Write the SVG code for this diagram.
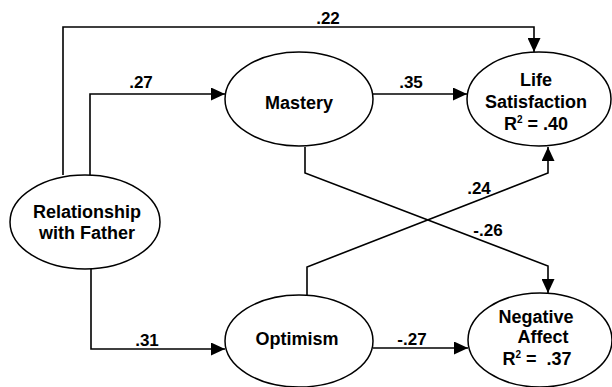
<svg xmlns="http://www.w3.org/2000/svg" width="612" height="387" viewBox="0 0 612 387">
<style>
.node ellipse{fill:#fff;stroke:#000;stroke-width:1.5}
.lbl{font-family:"Liberation Sans",Arial,sans-serif;font-weight:bold;font-size:18px;text-anchor:middle;fill:#000}
.num{font-family:"Liberation Sans",Arial,sans-serif;font-weight:bold;font-size:17px;text-anchor:middle;fill:#000}
.sup{font-size:10px}
.conn path{fill:none;stroke:#000;stroke-width:1.6}
</style>
<defs>
<marker id="ah" viewBox="0 0 14 13" refX="14" refY="6.5" markerWidth="14" markerHeight="13" markerUnits="userSpaceOnUse" orient="auto">
<path d="M0,0 L14,6.5 L0,13 z" fill="#000"/>
</marker>
</defs>
<rect width="612" height="387" fill="#fff"/>
<g id="connectors" class="conn">
<path d="M63,175 V27 H534 V52" marker-end="url(#ah)"/>
<path d="M90,175 V94 H225" marker-end="url(#ah)"/>
<path d="M91,268 V349 H225" marker-end="url(#ah)"/>
<path d="M373,94 H467" marker-end="url(#ah)"/>
<path d="M373,348 H468" marker-end="url(#ah)"/>
<path d="M305,147 V173 L548,266 V293" marker-end="url(#ah)"/>
<path d="M307,295 V267 L548,173 V147" marker-end="url(#ah)"/>
</g>
<g id="labels">
<text class="num" x="328" y="24">.22</text>
<text class="num" x="141" y="88">.27</text>
<text class="num" x="411" y="88">.35</text>
<text class="num" x="147" y="346">.31</text>
<text class="num" x="412" y="345">-.27</text>
<text class="num" x="479" y="194">.24</text>
<text class="num" x="488" y="236">-.26</text>
</g>
<g id="father" class="node">
<ellipse cx="85" cy="222" rx="75" ry="47"/>
<text class="lbl" x="87" y="218">Relationship</text>
<text class="lbl" x="87" y="239">with Father</text>
</g>
<g id="mastery" class="node">
<ellipse cx="299" cy="99" rx="74" ry="47"/>
<text class="lbl" x="299" y="109">Mastery</text>
</g>
<g id="optimism" class="node">
<ellipse cx="299" cy="341" rx="74" ry="46"/>
<text class="lbl" x="297" y="345">Optimism</text>
</g>
<g id="lifesat" class="node">
<ellipse cx="539" cy="99" rx="72" ry="47"/>
<text class="lbl" x="536" y="86">Life</text>
<text class="lbl" x="536" y="108">Satisfaction</text>
<text class="lbl" x="536" y="130">R<tspan class="sup" dy="-7">2</tspan><tspan dy="7"> = .40</tspan></text>
</g>
<g id="negaff" class="node">
<ellipse cx="540" cy="340" rx="72" ry="47"/>
<text class="lbl" x="536" y="323">Negative</text>
<text class="lbl" x="543" y="343">Affect</text>
<text class="lbl" x="537" y="365">R<tspan class="sup" dy="-7">2</tspan><tspan dy="7" xml:space="preserve"> =  .37</tspan></text>
</g>
</svg>
